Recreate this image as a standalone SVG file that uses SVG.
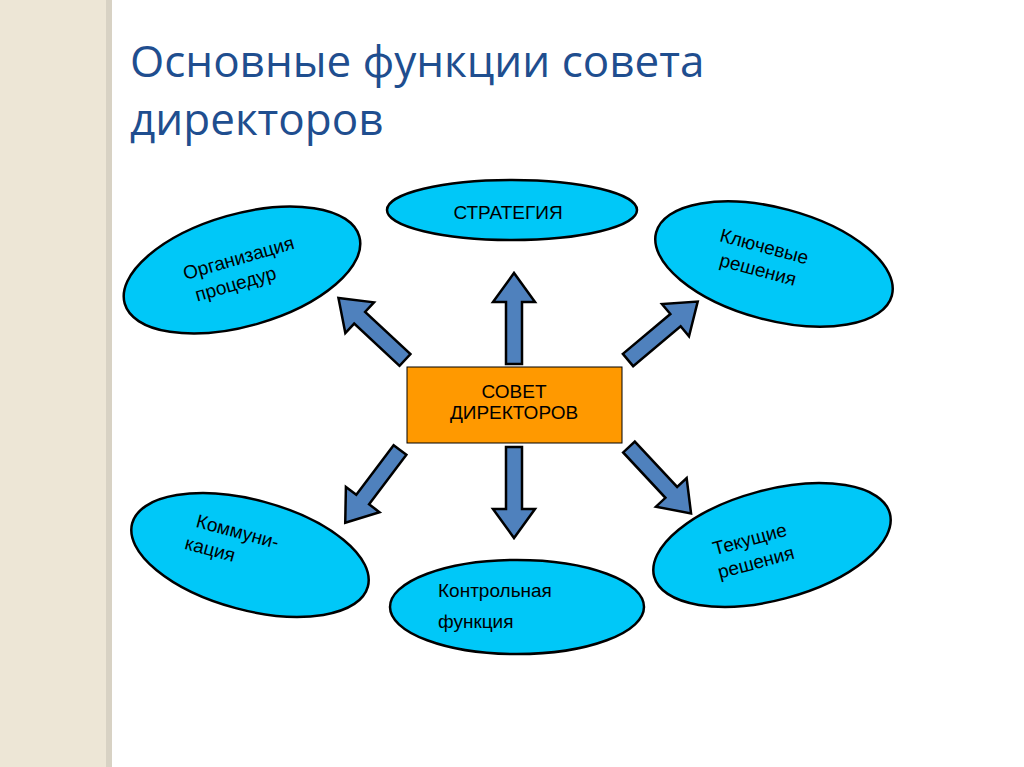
<svg xmlns="http://www.w3.org/2000/svg" width="1024" height="767" viewBox="0 0 1024 767">
<style>
.t{font-family:"Open Sans","Liberation Sans",sans-serif;fill:#1f4e8f;font-size:44px}
.e{fill:#00c8f8;stroke:#000;stroke-width:2.5}
.l{font-family:"Liberation Sans",Arial,sans-serif;font-size:19px;fill:#000}
.a{fill:#4f81bd;stroke:#000;stroke-width:2.5;stroke-linejoin:miter}
</style>
<defs>
<path id="ar" d="M0,-8 L62,-8 L62,-21 L91,0 L62,21 L62,8 L0,8 Z"/>
</defs>
<rect width="1024" height="767" fill="#fff"/>
<rect width="108" height="767" fill="#ede6d6"/>
<rect x="106" width="6" height="767" fill="#d8d2c4"/>
<text class="t" x="130" y="77">Основные функции совета</text>
<text class="t" x="130" y="135">директоров</text>
<g id="connectors">
<use href="#ar" class="a" transform="translate(514,364) rotate(-90)"/>
<use href="#ar" class="a" transform="translate(514,447) rotate(90)"/>
<use href="#ar" class="a" transform="translate(405,360) rotate(-137)"/>
<use href="#ar" class="a" transform="translate(628,360) rotate(-40)"/>
<use href="#ar" class="a" transform="translate(400,450) rotate(127)"/>
<use href="#ar" class="a" transform="translate(629,447) rotate(47)"/>
</g>
<g id="center"><rect x="407" y="367" width="215" height="76" fill="#ff9900" stroke="#000" stroke-width="1"/>
<text class="l" x="514" y="398" text-anchor="middle">СОВЕТ</text>
<text class="l" x="514" y="419" text-anchor="middle">ДИРЕКТОРОВ</text></g>
<g id="strategy"><ellipse class="e" cx="512" cy="210" rx="125" ry="30"/>
<text class="l" x="508" y="219" text-anchor="middle">СТРАТЕГИЯ</text></g>
<g id="org" transform="rotate(-16 242 270)"><ellipse class="e" cx="242" cy="270" rx="122" ry="56"/>
<text class="l" x="242" y="264" text-anchor="middle">Организация</text>
<text class="l" x="232" y="288" text-anchor="middle">процедур</text></g>
<g id="key" transform="rotate(15 774 264)"><ellipse class="e" cx="774" cy="264" rx="122" ry="56"/>
<text class="l" x="760" y="256" text-anchor="middle">Ключевые</text>
<text class="l" x="760" y="280" text-anchor="middle">решения</text></g>
<g id="comm" transform="rotate(15 250 555)"><ellipse class="e" cx="250" cy="555" rx="122" ry="55"/>
<text class="l" x="232" y="542" text-anchor="middle">Коммуни-</text>
<text class="l" x="210" y="566" text-anchor="middle">кация</text></g>
<g id="control"><ellipse class="e" cx="517" cy="607" rx="127" ry="47"/>
<text class="l" x="438" y="597">Контрольная</text>
<text class="l" x="438" y="628">функция</text></g>
<g id="current" transform="rotate(-15 772 545)"><ellipse class="e" cx="772" cy="545" rx="122" ry="55"/>
<text class="l" x="752" y="540" text-anchor="middle">Текущие</text>
<text class="l" x="752" y="564" text-anchor="middle">решения</text></g>
</svg>
